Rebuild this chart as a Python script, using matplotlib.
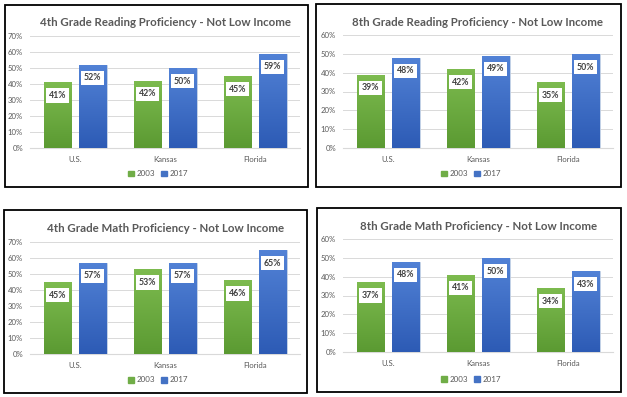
import matplotlib
matplotlib.use("Agg")
import matplotlib.pyplot as plt
import numpy as np
from matplotlib.patches import Rectangle
from matplotlib.colors import LinearSegmentedColormap

plt.rcParams['font.family'] = ['Lato', 'DejaVu Sans']

categories = ["U.S.", "Kansas", "Florida"]
series_names = ["2003", "2017"]

read4_2003 = [41, 42, 45]
read4_2017 = [52, 50, 59]
read8_2003 = [39, 42, 35]
read8_2017 = [48, 49, 50]
math4_2003 = [45, 53, 46]
math4_2017 = [57, 57, 65]
math8_2003 = [37, 41, 34]
math8_2017 = [48, 50, 43]

titles = ["4th Grade Reading Proficiency - Not Low Income",
          "8th Grade Reading Proficiency - Not Low Income",
          "4th Grade Math Proficiency - Not Low Income",
          "8th Grade Math Proficiency - Not Low Income"]
ymaxes = [70, 60, 70, 60]

W, H = 627, 397
fig = plt.figure(figsize=(W / 100, H / 100), dpi=100)
fig.patch.set_facecolor("white")

green_cmap = LinearSegmentedColormap.from_list("g", ["#5b9a32", "#7dbb4f"])
blue_cmap = LinearSegmentedColormap.from_list("b", ["#2d5bb5", "#5282d6"])
green_solid = "#70ad47"
blue_solid = "#4472c4"

# panel layout in pixels: border (x0,y0,x1,y1), axes (x0,x1,ytop,ybase), title (x,y), legend (x,y)
panels = [
    dict(border=(5, 5, 308, 187), ax=(30, 300, 36, 148), title=(165, 22), leg=(158, 174)),
    dict(border=(316, 4, 621, 187), ax=(343, 613, 35, 148), title=(478, 22), leg=(471, 174)),
    dict(border=(4, 210, 307, 393), ax=(30, 300, 242, 354), title=(166, 229), leg=(158, 380)),
    dict(border=(317, 208, 621, 392), ax=(343, 613, 239, 352), title=(479, 227), leg=(471, 379)),
]
data = [(read4_2003, read4_2017), (read8_2003, read8_2017),
        (math4_2003, math4_2017), (math8_2003, math8_2017)]


def fx(x):
    return x / W


def fy(y):
    return 1 - y / H


bw = 0.31
off = 0.195
grad = np.linspace(0, 1, 100).reshape(-1, 1)

for p, (s1, s2), title, ymax in zip(panels, data, titles, ymaxes):
    bx0, by0, bx1, by1 = p["border"]
    fig.patches.append(Rectangle((fx(bx0), fy(by1)), fx(bx1 - bx0), (by1 - by0) / H,
                                 transform=fig.transFigure, fill=False,
                                 edgecolor="black", linewidth=1.3, zorder=10))
    ax0, ax1, yt, yb = p["ax"]
    ax = fig.add_axes([fx(ax0), fy(yb), fx(ax1 - ax0), (yb - yt) / H])
    ax.set_xlim(-0.5, 2.5)
    ax.set_ylim(0, ymax)
    x = np.arange(len(categories))
    for vals, sign, cmap, solid in [(s1, -1, green_cmap, green_solid), (s2, 1, blue_cmap, blue_solid)]:
        bars = ax.bar(x + sign * off, vals, bw, color=solid, edgecolor="#c9d6e8",
                      linewidth=0.6, zorder=3)
        for b, v in zip(bars, vals):
            im = ax.imshow(grad, cmap=cmap, aspect="auto", origin="lower",
                           extent=(b.get_x(), b.get_x() + b.get_width(), 0, v), zorder=3.5)
            im.set_clip_path(b)
            ax.annotate(f"{v}%", (b.get_x() + b.get_width() / 2, v), xytext=(0, -9.5),
                        textcoords="offset points", ha="center", va="center",
                        fontsize=6.3, fontweight="bold", color="#404040", zorder=5,
                        bbox=dict(boxstyle="square,pad=0.3", fc="white", ec="none"))
    ax.set_xlim(-0.5, 2.5)
    ax.set_ylim(0, ymax)
    ax.set_yticks(np.arange(0, ymax + 1, 10))
    ax.set_yticklabels([f"{t}%" for t in range(0, ymax + 1, 10)])
    ax.set_xticks(x)
    ax.set_xticklabels(categories)
    ax.tick_params(axis="both", length=0, labelsize=5.6, colors="#595959")
    ax.tick_params(axis="y", pad=5)
    ax.tick_params(axis="x", pad=6)
    ax.yaxis.grid(True, color="#d9d9d9", linewidth=0.7, zorder=0)
    ax.set_axisbelow(True)
    for s in ["top", "right", "left"]:
        ax.spines[s].set_visible(False)
    ax.spines["bottom"].set_color("#d9d9d9")
    ax.spines["bottom"].set_linewidth(0.8)
    ax.set_facecolor("none")

    tx, ty = p["title"]
    fig.text(fx(tx), fy(ty), title, ha="center", va="center", fontsize=8.3,
             fontweight="bold", color="#595959")
    lx, ly = p["leg"]
    handles = [Rectangle((0, 0), 1, 1, color=green_solid), Rectangle((0, 0), 1, 1, color=blue_solid)]
    fig.legend(handles, series_names, loc="center", bbox_to_anchor=(fx(lx), fy(ly)),
               ncol=2, frameon=False, fontsize=5.8, handlelength=0.7, handleheight=0.7,
               handletextpad=0.3, columnspacing=0.8, labelcolor="#595959")

fig.savefig("out.png", dpi=100)
